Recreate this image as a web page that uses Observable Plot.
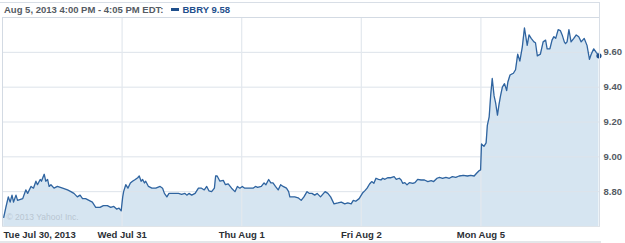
<!DOCTYPE html>
<html>
<head>
<meta charset="utf-8">
<script src="https://cdn.jsdelivr.net/npm/d3@7"></script>
<script src="https://cdn.jsdelivr.net/npm/@observablehq/plot@0.6"></script>
<style>
  body { margin: 0; background: #fff; }
  #wrap { position: relative; width: 625px; height: 243px; overflow: hidden; font-family: "Liberation Sans", Arial, sans-serif; }
  #frame { position: absolute; left: -1px; top: 2px; width: 601px; height: 224px; border-top: 1px solid #d8dee6; border-right: 1px solid #d8dee6; box-sizing: border-box; pointer-events: none; }
  #bottombar { position: absolute; left: 0; top: 241px; width: 601px; height: 2px; background: #e4e6e9; }
  #header { position: absolute; left: 4px; top: 4px; font-size: 9.5px; font-weight: bold; color: #555b63; white-space: nowrap; line-height: 12px; }
  #header .sw { display: inline-block; width: 8px; height: 3px; background: #1f4f8c; margin-left: 8px; margin-right: 3px; vertical-align: 2px; }
  #header .sym { color: #1f4f8c; }
</style>
</head>
<body>
<div id="wrap">
  <div id="chart"></div>
  <div id="frame"></div>
  <div id="bottombar"></div>
  <div id="header"></div>
</div>
<script>
// ---- data ----
const symbol = "BBRY";
const lastPrice = 9.58;
const headerText = "Aug 5, 2013 4:00 PM - 4:05 PM EDT:";
const dayLabels = ["Tue Jul 30, 2013", "Wed Jul 31", "Thu Aug 1", "Fri Aug 2", "Mon Aug 5"];
const minutesPerDay = 390;
const yTicks = [8.8, 9.0, 9.2, 9.4, 9.6];
const yDomain = [8.6, 9.8];
const copyright = "© 2013 Yahoo! Inc.";

// [minutes after open, price]
const jul30 = [[4,8.652],[11,8.71],[19,8.77],[25,8.74],[31,8.78],[36,8.74],[44,8.78],[49,8.75],[66,8.76],[76,8.81],[82,8.79],[93,8.83],[101,8.82],[109,8.86],[114,8.84],[123,8.87],[127,8.86],[136,8.90],[141,8.86],[147,8.87],[152,8.83],[158,8.84],[168,8.82],[179,8.83],[196,8.82],[212,8.81],[223,8.80],[233,8.79],[244,8.77],[253,8.78],[261,8.76],[271,8.76],[282,8.75],[293,8.74],[304,8.71],[318,8.71],[329,8.72],[342,8.72],[353,8.71],[363,8.715],[372,8.70],[380,8.705],[387,8.69]];
const jul31 = [[2,8.77],[5,8.80],[12,8.84],[19,8.82],[27,8.85],[34,8.86],[43,8.87],[51,8.88],[56,8.89],[62,8.86],[67,8.87],[73,8.85],[77,8.86],[86,8.83],[97,8.82],[110,8.82],[124,8.83],[132,8.82],[138,8.79],[146,8.77],[153,8.79],[167,8.79],[184,8.79],[194,8.785],[205,8.79],[211,8.78],[218,8.79],[227,8.78],[238,8.79],[249,8.82],[259,8.82],[268,8.81],[276,8.83],[283,8.805],[292,8.80],[301,8.82],[305,8.89],[310,8.89],[319,8.86],[330,8.865],[337,8.84],[346,8.845],[357,8.82],[368,8.80],[376,8.83],[384,8.82]];
const aug1 = [[2,8.83],[10,8.82],[21,8.82],[37,8.82],[45,8.83],[52,8.825],[64,8.83],[73,8.85],[79,8.84],[88,8.87],[95,8.85],[102,8.85],[110,8.83],[119,8.81],[127,8.84],[135,8.83],[146,8.82],[153,8.80],[157,8.77],[173,8.77],[184,8.765],[194,8.75],[203,8.77],[213,8.80],[221,8.79],[229,8.79],[238,8.78],[246,8.79],[257,8.77],[272,8.80],[281,8.79],[290,8.77],[301,8.73],[314,8.735],[325,8.74],[336,8.73],[346,8.735],[357,8.73],[364,8.75],[372,8.745],[383,8.76]];
const aug2 = [[5,8.794],[12,8.806],[19,8.82],[27,8.844],[34,8.858],[41,8.848],[48,8.877],[56,8.871],[64,8.867],[70,8.877],[77,8.871],[86,8.88],[97,8.88],[107,8.886],[114,8.871],[124,8.877],[130,8.867],[135,8.848],[142,8.852],[149,8.839],[157,8.852],[168,8.848],[175,8.852],[184,8.871],[195,8.867],[206,8.867],[217,8.858],[228,8.863],[236,8.858],[247,8.877],[255,8.882],[265,8.877],[276,8.882],[287,8.877],[297,8.886],[308,8.882],[319,8.89],[333,8.894],[346,8.89],[357,8.894],[368,8.89],[376,8.906],[384,8.92],[389,8.925]];
const aug5 = [[2,9.074],[10,9.06],[17,9.08],[21,9.18],[27,9.23],[32,9.356],[37,9.45],[43,9.35],[48,9.31],[54,9.24],[59,9.30],[64,9.35],[70,9.40],[77,9.42],[84,9.38],[88,9.43],[95,9.47],[106,9.48],[113,9.50],[120,9.59],[127,9.55],[135,9.63],[142,9.74],[151,9.64],[157,9.70],[164,9.68],[173,9.66],[178,9.655],[184,9.58],[194,9.59],[203,9.66],[211,9.67],[216,9.62],[225,9.62],[232,9.67],[238,9.69],[244,9.68],[252,9.73],[259,9.725],[265,9.70],[272,9.66],[276,9.65],[281,9.66],[287,9.73],[294,9.66],[303,9.68],[311,9.70],[319,9.69],[327,9.66],[337,9.68],[346,9.64],[354,9.56],[360,9.59],[368,9.62],[376,9.60],[385,9.58]];
const days = [jul30, jul31, aug1, aug2, aug5];

// ---- build table ----
const data = days.flatMap((d, i) => d.map(([m, p]) => ({t: i * minutesPerDay + m, price: p})));
const dayStarts = dayLabels.map((_, i) => i * minutesPerDay);
const last = data[data.length - 1];

document.getElementById("header").innerHTML =
  `${headerText}<span class="sw"></span><span class="sym">${symbol} ${lastPrice.toFixed(2)}</span>`;

const lineColor = "#2f64a0";
const fillColor = "#d6e5f1";
const gridColor = "#dde3ea";

const chart = Plot.plot({
  width: 625,
  height: 243,
  marginTop: 17,
  marginBottom: 17,
  marginLeft: 2,
  marginRight: 25,
  style: {fontFamily: "'Liberation Sans', Arial, sans-serif", fontSize: "9.5px", fontWeight: "bold", background: "transparent"},
  x: {domain: [0, minutesPerDay * dayLabels.length], axis: null},
  y: {domain: yDomain, axis: null},
  marks: [
    Plot.areaY(data, {x: "t", y1: yDomain[0], y2: "price", fill: fillColor}),
    Plot.ruleY(yTicks, {stroke: gridColor, strokeWidth: 1}),
    Plot.ruleX(dayStarts.slice(1), {stroke: "#e3e8ee", strokeWidth: 1.2}),
    Plot.ruleX([0], {stroke: "#d3dae3"}),
    Plot.ruleY([yDomain[1]], {stroke: "#d3dae3"}),
    Plot.ruleY([yDomain[0]], {stroke: "#e0e4e8"}),
    Plot.text([copyright], {frameAnchor: "bottom-left", dx: 4, dy: -7, fill: "#b9c6d2", fontWeight: "normal", fontSize: 8.5, textAnchor: "start"}),
    Plot.lineY(data, {x: "t", y: "price", stroke: lineColor, strokeWidth: 1.3}),
    Plot.dot([last], {x: "t", y: "price", r: 2.6, fill: "#1f4f8c"}),
    Plot.text(yTicks, {x: minutesPerDay * dayLabels.length, y: d => d, text: d => d3.format(".2f")(d), dx: 3, textAnchor: "start", fill: "#555b63"}),
    Plot.text(dayStarts.slice(0, 1), {x: d => d, y: yDomain[0], text: (d, i) => dayLabels[0], dx: 1, dy: 8, textAnchor: "start", fill: "#2b2f35"}),
    Plot.text(dayStarts.slice(1), {x: d => d, y: yDomain[0], text: (d, i) => dayLabels[i + 1], dy: 8, textAnchor: "middle", fill: "#2b2f35"})
  ]
});
document.getElementById("chart").appendChild(chart);
</script>
</body>
</html>
